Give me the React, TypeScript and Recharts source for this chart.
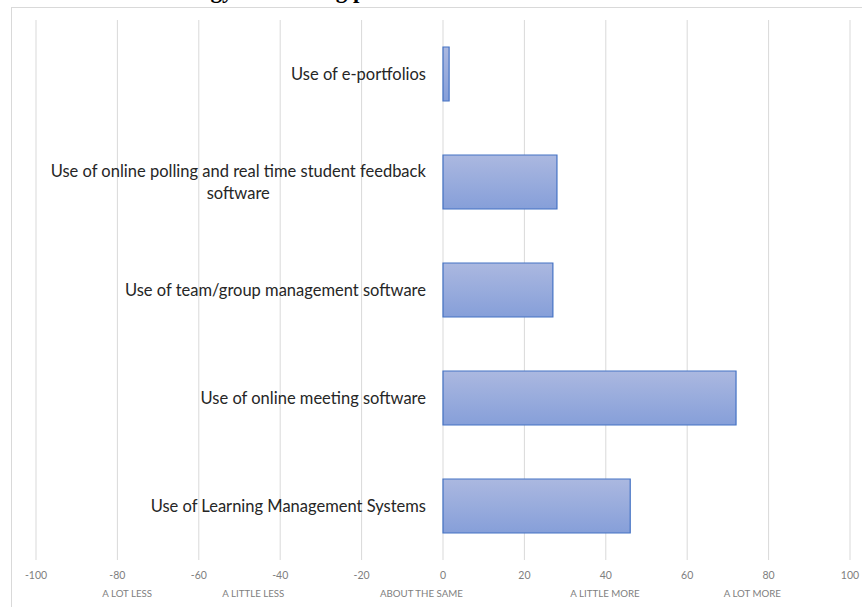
import React from 'react'
import { BarChart, Bar, XAxis, YAxis, CartesianGrid, LabelList, ReferenceLine } from 'recharts'

const categories = [
  'Use of e-portfolios',
  'Use of online polling and real time student feedback software',
  'Use of team/group management software',
  'Use of online meeting software',
  'Use of Learning Management Systems',
]
const values = [1.5, 28, 27, 72, 46]
const valueTicks = [-100, -80, -60, -40, -20, 0, 20, 40, 60, 80, 100]
const scaleWords = ['A LOT LESS', 'A LITTLE LESS', 'ABOUT THE SAME', 'A LITTLE MORE', 'A LOT MORE']
const scaleWordPositions = [-77.6, -46.6, -5.3, 39.8, 76]

const data = categories.map((name, i) => ({ name, value: values[i] }))

const LABEL_SIZE = 16.5
const LABEL_FONT = `${LABEL_SIZE}px Lato`
const MAX_LABEL_WIDTH = 400

let ctx: CanvasRenderingContext2D | null = null
function measure(text: string) {
  if (!ctx) ctx = document.createElement('canvas').getContext('2d')
  if (!ctx) return text.length * 7.2
  ctx.font = LABEL_FONT
  return ctx.measureText(text).width
}

function wrap(text: string) {
  const words = text.split(' ')
  const lines: string[] = []
  let cur = ''
  for (const w of words) {
    const next = cur ? cur + ' ' + w : w
    if (cur && measure(next) > MAX_LABEL_WIDTH) {
      lines.push(cur)
      cur = w
    } else {
      cur = next
    }
  }
  if (cur) lines.push(cur)
  return lines
}

// category names sit left of the zero line, like Excel does it
function CategoryLabel(props: any) {
  const { x, y, height, value } = props
  const lines = wrap(String(value))
  const right = x - 17
  const cy = y + height / 2
  const lineH = 22
  if (lines.length === 1) {
    return (
      <text x={right} y={cy} dy="0.35em" textAnchor="end" fontFamily="Lato" fontSize={LABEL_SIZE} fill="#262626">
        {lines[0]}
      </text>
    )
  }
  const blockW = Math.max(...lines.map(measure))
  const cx = right - blockW / 2
  const top = cy - ((lines.length - 1) * lineH) / 2
  return (
    <text textAnchor="middle" fontFamily="Lato" fontSize={LABEL_SIZE} fill="#262626">
      {lines.map((l, i) => (
        <tspan key={i} x={cx} y={top + i * lineH} dy="0.35em">
          {l}
        </tspan>
      ))}
    </text>
  )
}

export default function App() {
  return (
    <div style={{ position: 'fixed', left: 0, top: 0, width: 862, height: 607, overflow: 'hidden', background: '#fff' }}>
      <div
        style={{
          position: 'absolute',
          left: 122,
          top: -21,
          fontFamily: '"Liberation Serif", "Times New Roman", serif',
          fontWeight: 'bold',
          fontSize: 23,
          lineHeight: '24px',
          whiteSpace: 'nowrap',
          color: '#000',
        }}
      >
        Technology in teaching practice
      </div>
      <div
        style={{
          position: 'absolute',
          left: 11,
          top: 7,
          width: 900,
          height: 700,
          border: '1px solid #d9d9d9',
        }}
      />
      <div style={{ position: 'absolute', left: 0, top: 0 }}>
        <BarChart
          width={862}
          height={607}
          data={data}
          layout="vertical"
          barCategoryGap="25%"
          margin={{ top: 20, right: 12, left: 36, bottom: 27 }}
          style={{ overflow: 'visible' }}
        >
          <defs>
            <linearGradient id="barFill" x1="0" y1="0" x2="0" y2="1">
              <stop offset="0%" stopColor="#abb8e0" />
              <stop offset="100%" stopColor="#869fd9" />
            </linearGradient>
          </defs>
          <CartesianGrid horizontal={false} stroke="#d9d9d9" strokeWidth={1} />
          <XAxis
            type="number"
            domain={[-100, 100]}
            ticks={valueTicks}
            interval={0}
            axisLine={false}
            tickLine={false}
            height={20}
            tickMargin={6}
            tick={{ fontSize: 10.5, fill: '#808080', fontFamily: 'Lato' }}
          />
          <YAxis type="category" dataKey="name" hide />
          {scaleWords.map((w, i) => (
            <ReferenceLine
              key={w}
              x={scaleWordPositions[i]}
              stroke="none"
              label={{ value: w, position: 'bottom', offset: 30, fontSize: 9.7, fill: '#808080', fontFamily: 'Lato' }}
            />
          ))}
          <Bar dataKey="value" fill="url(#barFill)" stroke="#4472c4" strokeWidth={1.2} isAnimationActive={false}>
            <LabelList dataKey="name" content={CategoryLabel} />
          </Bar>
        </BarChart>
      </div>
    </div>
  )
}
